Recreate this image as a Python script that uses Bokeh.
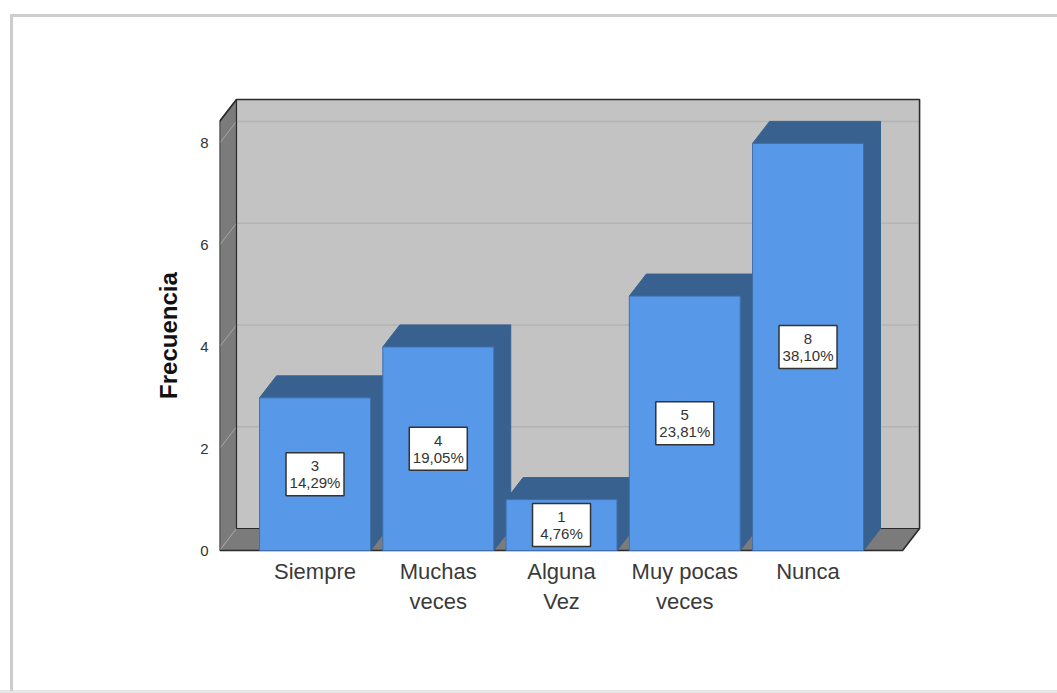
from bokeh.plotting import figure
from bokeh.models import FixedTicker, ColumnDataSource
from bokeh.core.properties import value
from bokeh.embed import file_html
from bokeh.resources import INLINE

categories = ["Siempre", "Muchas\nveces", "Alguna\nVez", "Muy pocas\nveces", "Nunca"]
counts = [3, 4, 1, 5, 8]
percents = ["14,29%", "19,05%", "4,76%", "23,81%", "38,10%"]
y_ticks = [0, 2, 4, 6, 8]

FONT = "Liberation Sans"
X_LO, X_HI = -0.775, 4.767
WALL_TOP = 8.43
BAR_W = 0.9
DX, DY = 17 / 123.25, 22 / 50.89
FRONT, SHADE = "#5898e8", "#38618f"
WALL, SIDE, GRID = "#c3c3c3", "#7b7b7b", "#b3b3b3"
INK = "#2b2b2b"

xs = list(range(len(counts)))

# The frame runs a little below y=0 so that the axis title centres where the reference has it.
p = figure(width=1057, height=693, output_backend="svg", toolbar_location=None,
           x_range=(-0.775, 4.953), y_range=(-0.55, 9),
           min_border_left=219, min_border_right=132, min_border_top=92, min_border_bottom=115,
           background_fill_color=None, border_fill_color=None, outline_line_color=None)
p.grid.visible = False

# picture frame behind the transparent canvas
c = "#cdcdcd"
g = f"linear-gradient({c},{c})"
p.styles = {"background": (
    f"{g} 10px 14px/1047px 3px no-repeat, "
    f"{g} 10px 14px/3px 677px no-repeat, "
    f"linear-gradient(#e6e6e6,#e6e6e6) 0px 690px/1057px 3px no-repeat, white")}

# walls and floor
p.patch([X_LO + DX, X_HI + DX, X_HI + DX, X_LO + DX],
        [DY, DY, WALL_TOP + DY, WALL_TOP + DY], fill_color=WALL, line_color=None)
p.patch([X_LO, X_LO + DX, X_LO + DX, X_LO],
        [0, DY, WALL_TOP + DY, WALL_TOP], fill_color=SIDE, line_color=None)
p.patch([X_LO, X_HI, X_HI + DX, X_LO + DX],
        [0, 0, DY, DY], fill_color=SIDE, line_color=None)

# gridlines
grid_vals = [v for v in y_ticks if v > 0]
p.multi_line([[X_LO + DX, X_HI + DX] for _ in grid_vals],
             [[v + DY, v + DY] for v in grid_vals], line_color=GRID, line_width=1.5)
p.multi_line([[X_LO, X_LO + DX] for _ in y_ticks],
             [[v, v + DY] for v in y_ticks], line_color="#a5a5a5", line_width=1)

# wall edges
p.line([X_LO, X_LO, X_LO + DX, X_HI + DX, X_HI + DX, X_HI, X_LO],
       [0, WALL_TOP, WALL_TOP + DY, WALL_TOP + DY, DY, 0, 0], line_color=INK, line_width=1.6)
p.line([X_LO + DX, X_LO + DX, X_HI + DX], [WALL_TOP + DY, DY, DY],
       line_color=INK, line_width=1.2)
p.line([X_LO, X_LO + DX], [WALL_TOP, WALL_TOP + DY], line_color=INK, line_width=1.2)

# bars
for x, n in zip(xs, counts):
    l, r = x - BAR_W / 2, x + BAR_W / 2
    p.patch([r, r + DX, r + DX, r], [0, DY, n + DY, n], fill_color=SHADE, line_color=SHADE, line_width=1)
    p.patch([l, l + DX, r + DX, r], [n, n + DY, n + DY, n], fill_color=SHADE, line_color=SHADE, line_width=1)
    p.quad(left=l, right=r, bottom=0, top=n, fill_color=FRONT, line_color="#3f70ad", line_width=1)

# value labels
src = ColumnDataSource(dict(x=xs, y=[n / 2 for n in counts],
                            t=[f"{n}\n{q}" for n, q in zip(counts, percents)]))
p.rect("x", "y", source=src, width=58, height=43, width_units="screen", height_units="screen",
       fill_color="white", line_color="#333333", line_width=1.5)
p.text("x", "y", text="t", source=src, text_align="center", text_baseline="middle",
       text_font=value(FONT), text_font_size="15px", text_color="#333333", text_line_height=1.0)

# axes
p.xaxis.ticker = FixedTicker(ticks=xs)
p.xaxis.major_label_overrides = {i: t for i, t in enumerate(categories)}
p.xaxis.axis_line_color = None
p.xaxis.major_tick_line_color = None
p.xaxis.minor_tick_line_color = None
p.xaxis.major_label_text_font = FONT
p.xaxis.major_label_text_font_size = "22px"
p.xaxis.major_label_text_color = "#3a3a3a"
p.xaxis.major_label_standoff = -26

p.yaxis.ticker = FixedTicker(ticks=y_ticks)
p.yaxis.axis_line_color = None
p.yaxis.major_tick_line_color = None
p.yaxis.minor_tick_line_color = None
p.yaxis.major_label_text_font = FONT
p.yaxis.major_label_text_font_size = "15px"
p.yaxis.major_label_text_color = "#333333"
p.yaxis.major_label_standoff = 5
p.yaxis.axis_label = "Frecuencia"
p.yaxis.axis_label_text_font = FONT
p.yaxis.axis_label_text_font_style = "bold"
p.yaxis.axis_label_text_font_size = "24px"
p.yaxis.axis_label_text_color = "#111111"
p.yaxis.axis_label_standoff = 15

open("out.html", "w").write(file_html(p, INLINE))
